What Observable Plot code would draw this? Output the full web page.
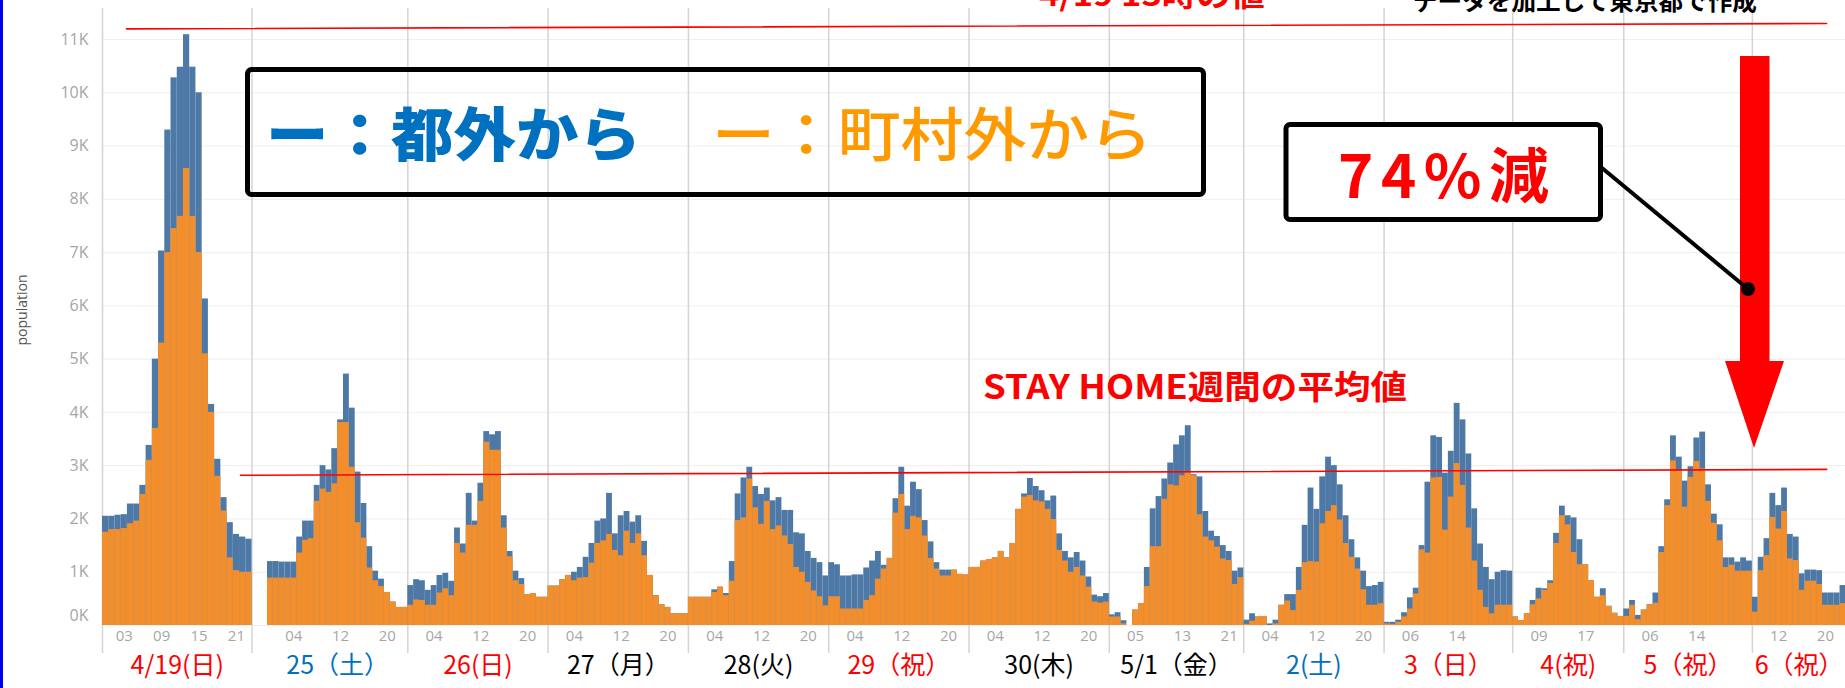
<!DOCTYPE html>
<html><head><meta charset="utf-8">
<script src="https://cdn.jsdelivr.net/npm/d3@7"></script>
<script src="https://cdn.jsdelivr.net/npm/@observablehq/plot@0.6"></script>
<style>
html,body{margin:0;padding:0;background:#fff;overflow:hidden}
#wrap{position:relative;width:1845px;height:688px;overflow:hidden;background:#fff}
#wrap svg{display:block}
#overlay{position:absolute;left:0;top:0;pointer-events:none}
</style></head><body><div id="wrap"></div>
<script>
// ---- data ----
const dayLabels = ["4/19(日)","25（土）","26(日)","27（月）","28(火)","29（祝）","30(木)","5/1（金）","2(土)","3（日）","4(祝)","5（祝）","6（祝）"];
const dayLabelColors = ["#ff0000","#0070c0","#ff0000","#000000","#000000","#ff0000","#000000","#000000","#0070c0","#ff0000","#ff0000","#ff0000","#ff0000"];
const firstHours = [0,0,0,0,0,0,0,1,0,2,5,2,8];
const hourTicks = [[3,9,15,21],[4,12,20],[4,12,20],[4,12,20],[4,12,20],[4,12,20],[4,12,20],[5,13,21],[4,12,20],[6,14],[9,17],[6,14],[12,20]];
const yTickValues = [0,1,2,3,4,5,6,7,8,9,10,11];
// 都外から (thousands)
const outsideTokyo = [
 [2.05,2.05,2.07,2.08,2.28,2.28,2.63,3.38,5.0,7.03,9.3,10.28,10.48,11.09,10.48,10.0,6.13,4.15,3.12,2.4,1.93,1.71,1.66,1.62],
 [1.2,1.2,1.19,1.19,1.19,1.66,1.96,1.96,2.63,3.0,2.92,3.32,3.86,4.72,4.08,2.88,2.29,1.48,1.02,0.87,0.62,0.44,0.34,0.34],
 [0.75,0.86,0.84,0.66,0.75,0.94,0.98,0.83,1.83,1.53,2.48,1.96,2.67,3.64,3.58,3.64,2.06,1.39,1.02,0.88,0.58,0.6,0.53,0.53],
 [0.74,0.74,0.86,0.94,1.0,1.09,1.28,1.54,1.96,2.0,2.48,1.72,2.06,2.14,1.94,2.06,1.58,0.94,0.56,0.39,0.34,0.22,0.22,0.22],
 [0.53,0.53,0.53,0.53,0.67,0.72,0.6,1.2,2.47,2.77,2.97,2.61,2.46,2.58,2.34,2.4,2.16,2.16,1.74,1.72,1.39,1.26,1.18,0.93],
 [1.18,1.14,0.93,0.93,0.95,0.95,1.08,1.21,1.39,1.13,1.26,2.38,2.97,2.24,2.69,2.55,1.97,1.57,1.18,1.04,1.04,1.04,0.96,0.95],
 [1.09,1.09,1.21,1.24,1.27,1.39,1.27,1.54,2.18,2.47,2.76,2.61,2.53,2.34,2.43,1.72,1.39,1.27,1.37,1.21,0.91,0.57,0.54,0.6],
 [0.2,0.24,0.09,0,0.29,0.41,1.09,2.19,2.42,2.75,3.05,3.39,3.56,3.75,2.83,2.79,2.14,1.77,1.67,1.5,1.39,1.02,1.08],
 [0.1,0.22,0.16,0.17,0.03,0.1,0.38,0.58,0.58,1.09,1.88,2.58,2.18,2.79,3.16,3.0,2.64,2.06,1.61,1.27,1.02,0.73,0.75,0.81],
 [0.06,0.06,0.1,0.24,0.52,0.7,1.5,2.69,3.56,3.53,2.86,3.27,4.17,3.86,3.22,2.19,1.53,1.09,0.86,1.0,1.03,1.02],
 [0.16,0.09,0.22,0.47,0.7,0.69,0.84,1.73,2.24,2.06,2.02,1.61,1.14,0.84,0.53,0.69,0.36,0.23,0.17],
 [0.31,0.47,0.19,0.29,0.39,0.61,1.48,2.36,3.56,3.16,2.71,2.98,3.52,3.63,2.64,2.09,1.89,1.27,1.27,1.19,1.27,1.21],
 [0.53,1.28,1.63,2.48,2.25,2.58,1.71,1.66,0.97,1.04,1.04,1.03,0.61,0.61,0.61,0.75]
];
// 町村外から (thousands)
const outsideTown = [
 [1.75,1.8,1.8,1.82,1.91,1.96,2.46,3.1,3.7,5.3,7.0,7.45,7.68,8.58,7.68,7.0,5.1,4.0,2.8,2.15,1.27,1.03,1.0,1.0],
 [0.89,0.89,0.89,0.89,0.89,1.36,1.6,1.63,2.33,2.56,2.5,2.66,3.81,3.81,2.97,1.93,1.64,1.08,0.84,0.73,0.62,0.44,0.34,0.34],
 [0.38,0.48,0.47,0.38,0.38,0.61,0.69,0.56,1.54,1.36,1.88,1.88,2.33,3.44,3.29,3.29,1.83,1.29,0.84,0.77,0.58,0.6,0.53,0.53],
 [0.74,0.74,0.86,0.94,0.84,0.89,0.9,1.17,1.54,1.59,1.71,1.41,1.31,1.77,1.54,1.72,1.31,0.94,0.56,0.39,0.34,0.22,0.22,0.22],
 [0.53,0.53,0.53,0.53,0.62,0.72,0.56,0.83,1.97,2.02,2.75,2.21,1.9,2.33,1.8,1.87,1.68,1.52,1.09,1.0,0.81,0.65,0.54,0.37],
 [0.54,0.54,0.31,0.31,0.31,0.31,0.47,0.56,0.87,1.06,1.26,2.11,2.46,1.8,2.05,2.02,1.68,1.26,1.06,0.93,0.93,1.04,0.96,0.95],
 [1.09,1.09,1.21,1.24,1.27,1.39,1.27,1.54,2.18,2.41,2.44,2.34,2.32,2.18,1.99,1.41,1.21,1.0,1.09,0.93,0.72,0.44,0.42,0.44],
 [0.16,0.16,0.03,0,0.29,0.41,0.73,1.48,1.48,2.37,2.64,2.62,2.81,2.89,2.81,2.08,1.66,1.59,1.47,1.25,1.22,0.77,0.9],
 [0.02,0.08,0.16,0.17,0,0.03,0.38,0.46,0.28,0.66,1.18,1.2,1.19,1.91,2.14,2.25,1.98,1.54,1.28,1.06,0.67,0.38,0.38,0.41],
 [0.03,0.02,0.06,0.16,0.31,0.59,1.42,1.36,2.77,2.78,1.79,2.41,3.04,2.63,1.83,1.21,0.66,0.34,0.22,0.38,0.38,0.38],
 [0.16,0.09,0.22,0.39,0.5,0.66,0.79,1.54,2.06,1.89,1.37,1.14,1.14,0.84,0.53,0.56,0.36,0.23,0.17],
 [0.17,0.38,0.11,0.29,0.39,0.42,1.37,2.25,3.09,2.91,2.22,2.78,3.08,2.94,2.33,1.92,1.59,1.09,1.13,1.02,1.02,1.02],
 [0.25,1.03,1.31,2.03,1.81,2.14,1.25,1.22,0.66,0.83,0.83,0.77,0.38,0.38,0.38,0.41]
];
const peakValue = [11.2, 11.3];      // 4/19 13時の値 (line ends)
const stayHomeAverage = [2.82, 2.93]; // STAY HOME週間の平均値 (line ends)

// ---- layout in bar-index space ----
const GAP = 2;
const starts = [], ends = [];
{ let c = 0; outsideTokyo.forEach((v, d) => { if (d === 1) c += GAP; starts.push(c); c += v.length; ends.push(c); }); }
const rows = outsideTokyo.flatMap((v, d) => v.map((b, k) => ({i: starts[d] + k, hour: firstHours[d] + k, blue: b, orange: outsideTown[d][k]})));
const tickRows = hourTicks.flatMap((hs, d) => hs.map(h => ({x: starts[d] + (h - firstHours[d]) + 0.5, label: String(h).padStart(2, "0")})));
const dayRows = dayLabels.map((l, d) => ({x: (starts[d] + ends[d]) / 2, label: l, color: dayLabelColors[d]}));
const separators = [starts[0], ends[0], ...ends.slice(1, ends.length - 1)];
const last = ends[ends.length - 1];
const peakLine = [{x: 3.85, y: peakValue[0]}, {x: last - 3.3, y: peakValue[1]}];
const avgLine = [{x: 22.15, y: stayHomeAverage[0]}, {x: last - 3.3, y: stayHomeAverage[1]}];

const chart = Plot.plot({
  width: 1845, height: 688,
  marginLeft: 102, marginRight: 0, marginTop: 39, marginBottom: 63,
  x: {type: "linear", domain: [0, ends[0], starts[1], last], range: [102, 251.5, 267, 1845.4], axis: null},
  y: {domain: [0, 11], axis: null},
  color: {type: "identity"},
  style: {background: "white", overflow: "hidden"},
  marks: [
    Plot.ruleY(yTickValues, {stroke: "#efefef", strokeWidth: 1}),
    Plot.ruleX(separators, {stroke: "#d4d4d4", strokeWidth: 1.5, insetTop: -31, insetBottom: -28}),
    Plot.rectY(rows, {x1: "i", x2: d => d.i + 1, y1: 0, y2: "blue", fill: "#4e79a7"}),
    Plot.rectY(rows, {x1: "i", x2: d => d.i + 1, y1: 0, y2: "orange", fill: "#f28e2b"}),
    Plot.line(peakLine, {x: "x", y: "y", stroke: "#ff0000", strokeWidth: 1.6}),
    Plot.line(avgLine, {x: "x", y: "y", stroke: "#ff0000", strokeWidth: 1.6}),
    Plot.text(yTickValues.filter(v => v > 0), {y: d => d, text: d => `${d}K`, frameAnchor: "left", textAnchor: "end", dx: -14, fill: "#a6a6a6", fontSize: 16, fontFamily: "Open Sans", ariaLabel: "ytick"}),
    Plot.text(yTickValues.filter(v => v === 0), {y: d => d, text: d => `${d}K`, frameAnchor: "left", textAnchor: "end", dx: -14, dy: -10, fill: "#a6a6a6", fontSize: 16, fontFamily: "Open Sans", ariaLabel: "ytick0"}),
    Plot.text(tickRows, {x: "x", text: "label", frameAnchor: "bottom", dy: 15, fill: "#a6a6a6", fontSize: 15, fontFamily: "Open Sans", ariaLabel: "xtick"}),
    Plot.text(dayRows, {x: "x", text: "label", fill: "color", frameAnchor: "bottom", dy: 48, fontSize: 25, fontFamily: "Noto Sans CJK JP", ariaLabel: "daylabel"})
  ]
});
document.getElementById("wrap").appendChild(chart);

function stretch(label, sx) {
  chart.querySelectorAll(`g[aria-label="${label}"] text`).forEach(t => {
    const tr = t.getAttribute("transform");
    if (tr) t.setAttribute("transform", tr + ` scale(${sx},1)`);
    else {
      const x = +t.getAttribute("x") || 0, y = +t.getAttribute("y") || 0;
      t.removeAttribute("x"); t.removeAttribute("y");
      t.setAttribute("transform", `translate(${x},${y}) scale(${sx},1)`);
    }
  });
}
stretch("ytick", 1.28);
stretch("ytick0", 1.28);
stretch("xtick", 1.4);

// ---- annotations ----
const J = 'font-family="Noto Sans CJK JP"';
const ov = `<svg id="overlay" xmlns="http://www.w3.org/2000/svg" width="1845" height="688">
<rect x="0" y="0" width="3" height="688" fill="#0000ee"/>
<text x="23" y="310" transform="rotate(-90 23 310)" text-anchor="middle" dominant-baseline="middle" font-family="Open Sans" font-size="14" fill="#555">population</text>
<rect x="247.5" y="69.5" width="956" height="125" rx="4" fill="none" stroke="#000" stroke-width="5"/>
<text x="266" y="156" ${J} font-weight="900" font-size="58" fill="#0070c0" textLength="375" lengthAdjust="spacingAndGlyphs">ー：都外から</text>
<text x="712" y="156" ${J} font-weight="500" font-size="58" fill="#ff9900" textLength="440" lengthAdjust="spacingAndGlyphs">ー：町村外から</text>
<rect x="1286" y="124.5" width="314.5" height="95" rx="4" fill="#fff" stroke="#000" stroke-width="5"/>
<text x="1338" y="198" ${J} font-weight="700" font-size="60" fill="#ff0000" textLength="211" lengthAdjust="spacing">74%減</text>
<rect x="1740" y="56" width="29.5" height="306" fill="#ff0000"/>
<polygon points="1725,361 1784,361 1754,448" fill="#ff0000"/>
<line x1="1602" y1="168" x2="1748" y2="289" stroke="#000" stroke-width="4"/>
<circle cx="1748" cy="289" r="7" fill="#000"/>
<text x="983" y="399" ${J} font-weight="700" font-size="33" fill="#ff0000" textLength="424" lengthAdjust="spacingAndGlyphs">STAY HOME週間の平均値</text>
<text x="1039" y="6" ${J} font-weight="700" font-size="30" fill="#ff0000" textLength="226" lengthAdjust="spacingAndGlyphs">4/19 13時の値</text>
<text x="1413" y="10" ${J} font-weight="700" font-size="24" fill="#000" textLength="344" lengthAdjust="spacingAndGlyphs">データを加工して東京都で作成</text>
</svg>`;
document.getElementById("wrap").insertAdjacentHTML("beforeend", ov);
</script></body></html>
